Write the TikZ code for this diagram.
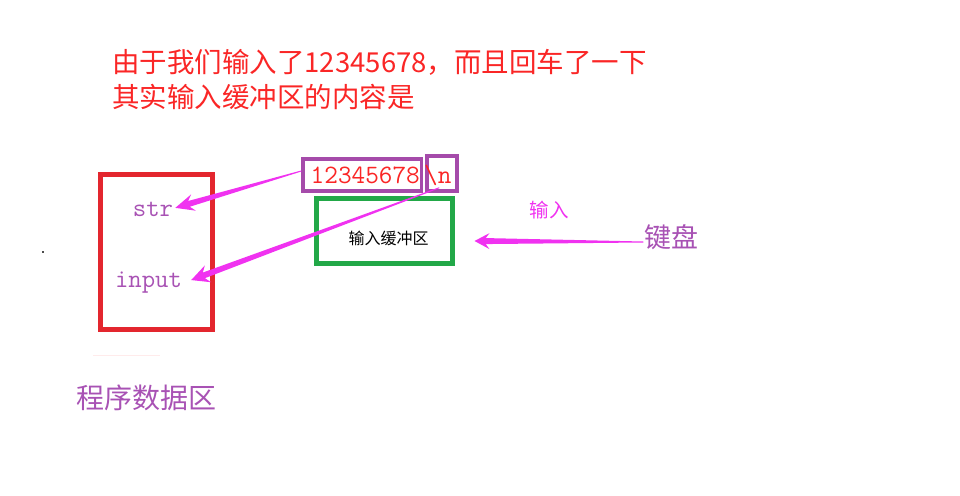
\documentclass[tikz,border=0pt]{standalone}
\usepackage{fontspec}
\newfontfamily\cjk{Noto Sans CJK SC}
\usetikzlibrary{calc}
\definecolor{titlered}{RGB}{250,38,38}
\definecolor{boxred}{RGB}{227,38,46}
\definecolor{boxpurple}{RGB}{165,75,170}
\definecolor{txtpurple}{RGB}{168,82,180}
\definecolor{boxgreen}{RGB}{34,168,72}
\definecolor{arrowmag}{RGB}{240,50,240}
\newcommand\taperarrow[4]{% start, tip, head length, head half-width
  \coordinate (tA) at (#1);
  \coordinate (tB) at (#2);
  \coordinate (tH) at ($(tB)!#3!(tA)$);
  \coordinate (tS) at ($(tB)!0.75*#3!(tA)$);
  \fill[arrowmag] ($(tA)!0.5pt!90:(tB)$) -- ($(tS)!3pt!-90:(tA)$) -- ($(tH)!#4!-90:(tA)$) -- (tB)
     -- ($(tH)!#4!90:(tA)$) -- ($(tS)!3pt!90:(tA)$) -- ($(tA)!0.5pt!-90:(tB)$) -- cycle;
}
\tikzset{
  title/.style={anchor=base west, inner sep=0pt, text=titlered, font=\cjk\fontsize{27.5}{30}\selectfont},
  vartext/.style={anchor=base, inner sep=0pt, text=txtpurple, font=\ttfamily\fontsize{26}{30}\selectfont},
  buftext/.style={anchor=base west, inner sep=0pt, text=titlered, font=\ttfamily\fontsize{26.5}{30}\selectfont},
  pbox/.style={draw=boxpurple, line width=3.5pt},
  purplecjk/.style={inner sep=0pt, text=txtpurple, font=\cjk\fontsize{#1}{#1}\selectfont},
}
\begin{document}
\begin{tikzpicture}[x=1pt,y=-1pt]
\useasboundingbox (0,0) rectangle (960,495);
% title
\node[title] (t1) at (112,73) {由于我们输入了12345678，而且回车了一下};
\node[title] (t2) at (112,107.5) {其实输入缓冲区的内容是};
% program data area
\draw[boxred, line width=5pt] (100.5,174.5) rectangle (212.5,329);
\node[vartext] (str) at (153,216) {str};
\node[vartext] (input) at (148.5,287) {input};
\node[purplecjk=28] (prog) at (146,398) {程序数据区};
% buffer contents
\node[pbox, minimum width=118.5pt, minimum height=32pt, inner sep=0pt] (numbox) at (362.25,175) {};
\node[pbox, minimum width=30pt, minimum height=35pt, inner sep=0pt] (nlbox) at (442,173.5) {};
\node[buftext] (num) at (310.5,183) {12345678};
\node[buftext] (nl) at (424,183) {\textbackslash n};
% input buffer
\node[draw=boxgreen, line width=5pt, minimum width=136pt, minimum height=65pt, inner sep=0pt] (buf) at (384.5,231) {};
\node[inner sep=0pt, font=\cjk\fontsize{16}{16}\selectfont] (buflabel) at (388.5,238) {输入缓冲区};
% keyboard
\node[purplecjk=27] (kb) at (671.5,237) {键盘};
\node[inner sep=0pt, text=arrowmag, font=\cjk\fontsize{19.5}{20}\selectfont] (inlabel) at (549,210) {输入};
% arrows
\taperarrow{$(numbox.west)+(0,-4)$}{$(str.east)+(2,-1)$}{19pt}{8.5pt}
\taperarrow{$(nlbox.south west)+(14,-5)$}{$(input.east)+(9,-2)$}{18pt}{9pt}
\taperarrow{$(kb.west)+(-1,5)$}{$(buf.east)+(19.5,10)$}{15pt}{8pt}
% small marks
\fill[black!70] (42.3,251.3) rectangle (43.7,252.7);
\draw[red!8, line width=0.8pt] (93,355) -- (160,355);
\end{tikzpicture}
\end{document}
